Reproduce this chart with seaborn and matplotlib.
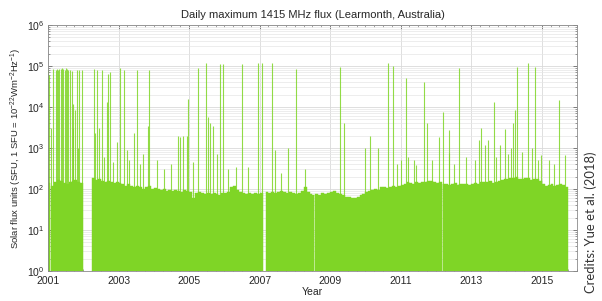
import numpy as np
import pandas as pd
import matplotlib
matplotlib.use("Agg")
import matplotlib.pyplot as plt
import matplotlib.ticker as mticker
import seaborn as sns

# ---------------- data ----------------
nan = np.nan
# typical daily-maximum level per month (SFU), Jan..Dec
base_2001 = [140, 120, 150, 170, 160, 140, 130, 150, 160, 170, 150, 140]
base_2002 = [nan, nan, nan, 190, 170, 180, 160, 150, 160, 150, 140, 150]
base_2003 = [140, 130, 120, 130, 120, 110, 120, 110, 100, 110, 120, 100]
base_2004 = [105, 100, 95, 100, 90, 95, 90, 95, 90, 85, 95, 90]
base_2005 = [85, 62, 80, 85, 80, 75, 80, 75, 80, 75, 70, 80]
base_2006 = [80, 85, 110, 120, 95, 85, 80, 75, 80, 75, 80, 75]
base_2007 = [80, nan, 85, 80, 85, 80, 85, 90, 85, 80, 85, 80]
base_2008 = [75, 80, 90, 110, 85, 75, 70, 75, 70, 80, 75, 80]
base_2009 = [85, 90, 80, 75, 70, 65, 65, 62, 60, 65, 70, 75]
base_2010 = [85, 90, 95, 100, 95, 110, 115, 105, 110, 120, 115, 120]
base_2011 = [125, 130, 150, 140, 135, 150, 140, 145, 150, 160, 155, 150]
base_2012 = [140, 150, 135, 130, 125, 130, 140, 125, 130, 135, 130, 125]
base_2013 = [130, 140, 135, 150, 145, 150, 155, 140, 150, 160, 170, 175]
base_2014 = [180, 190, 185, 200, 175, 180, 190, 185, 170, 180, 175, 160]
base_2015 = [130, 120, 125, 130, 120, 125, 130, 125, 115]

# periods without observations (decimal years)
gap_start = [2001.07, 2002.00, 2007.09, 2008.55, 2012.18, 2014.975]
gap_end   = [2001.085, 2002.23, 2007.19, 2008.565, 2012.195, 2014.99]

# burst days: date (decimal year) and daily maximum flux (SFU)
spike_year = [2001.01, 2001.04, 2001.08, 2001.13, 2001.23, 2001.26, 2001.29, 2001.32,
              2001.36, 2001.40, 2001.43, 2001.47, 2001.50, 2001.53, 2001.58, 2001.62,
              2001.67, 2001.70, 2001.72, 2001.77, 2001.81, 2001.85, 2001.88, 2001.96,
              2002.30, 2002.33, 2002.38, 2002.45, 2002.52, 2002.60, 2002.68, 2002.71,
              2002.76, 2002.85, 2002.95,
              2003.04, 2003.15, 2003.23, 2003.30, 2003.43, 2003.51, 2003.60, 2003.70,
              2003.83, 2003.87,
              2004.08, 2004.30, 2004.50, 2004.69, 2004.75, 2004.83, 2004.95, 2004.98,
              2005.10, 2005.24, 2005.47, 2005.54, 2005.58, 2005.68, 2005.80, 2005.87,
              2005.97,
              2006.10, 2006.34, 2006.49, 2006.67, 2006.96,
              2007.07, 2007.34, 2007.43, 2007.60, 2007.81,
              2008.02, 2008.30,
              2009.29, 2009.39,
              2010.00, 2010.12, 2010.37, 2010.64, 2010.78, 2010.90,
              2011.02, 2011.14, 2011.20, 2011.37, 2011.44, 2011.66, 2011.75, 2011.90,
              2012.09, 2012.20, 2012.36, 2012.38, 2012.50, 2012.64, 2012.86,
              2013.10, 2013.22, 2013.29, 2013.40, 2013.49, 2013.66, 2013.70, 2013.83,
              2013.96,
              2014.05, 2014.13, 2014.19, 2014.25, 2014.30, 2014.45, 2014.61, 2014.72,
              2014.82, 2014.90, 2014.97,
              2015.22, 2015.35, 2015.50, 2015.67]
spike_flux = [8.0e4, 6.0e4, 3.0e3, 8.5e4, 8.0e4, 8.5e4, 8.0e4, 8.5e4,
              8.5e4, 9.0e4, 8.5e4, 8.0e4, 9.0e4, 8.5e4, 8.0e4, 8.0e4,
              7.5e4, 3.0e3, 1.2e4, 8.5e3, 8.0e4, 1.0e3, 8.0e4, 8.0e4,
              8.5e4, 2.3e3, 8.0e4, 3.0e3, 8.0e4, 600, 1.3e4, 6.5e4,
              7.0e4, 450, 1.4e3,
              9.0e4, 8.0e4, 900, 500, 2.3e3, 8.0e4, 400, 700,
              3.4e3, 8.0e4,
              500, 300, 400, 2.0e3, 1.9e3, 2.0e3, 2.0e3, 1.6e4,
              450, 9.0e4, 1.2e5, 5.7e3, 4.0e3, 3.4e3, 700, 1.15e5,
              1.1e5,
              300, 350, 1.15e5, 350, 1.2e5,
              1.2e5, 1.2e5, 900, 250, 1.0e3,
              8.5e4, 300,
              9.5e4, 4.0e3,
              1.0e3, 2.0e3, 1.0e3, 1.2e5, 1.0e5, 400,
              500, 5.0e4, 600, 500, 380, 4.0e4, 4.0e3, 500,
              1.9e3, 7.6e3, 750, 2.8e3, 400, 9.0e4, 600,
              500, 1.6e3, 3.0e3, 1.2e3, 1.6e3, 1.3e4, 600, 1.2e3,
              2.9e3,
              700, 1.0e3, 4.0e3, 8.5e3, 9.5e4, 800, 1.2e5, 1.0e3,
              9.5e4, 500, 680,
              500, 400, 1.5e4, 680]

# ---------------- assemble monthly table ----------------
yearly = [base_2001, base_2002, base_2003, base_2004, base_2005, base_2006,
          base_2007, base_2008, base_2009, base_2010, base_2011, base_2012,
          base_2013, base_2014, base_2015]
rows = []
for i, vals in enumerate(yearly):
    for m, v in enumerate(vals):
        rows.append((2001 + i + m / 12.0, 2001 + i + (m + 1) / 12.0, v))
monthly = pd.DataFrame(rows, columns=["start", "end", "flux"])

# bin edges: month boundaries plus data-gap boundaries
edge_set = set(np.round(monthly["start"], 6)) | set(np.round(monthly["end"], 6)) \
    | set(gap_start) | set(gap_end)
edges = sorted(float(e) for e in edge_set)
centers = [0.5 * (a + b) for a, b in zip(edges[:-1], edges[1:])]
weights = []
for c in centers:
    in_gap = any(s <= c < e for s, e in zip(gap_start, gap_end))
    row = monthly[(monthly["start"] <= c) & (monthly["end"] > c)]
    if in_gap or row.empty or np.isnan(row["flux"].iloc[0]):
        weights.append(0.0)
    else:
        weights.append(float(row["flux"].iloc[0]))
table = pd.DataFrame({"year": centers, "flux": weights})

# ---------------- style ----------------
sns.set_style("ticks")
plt.rcParams["font.family"] = ["Liberation Sans", "DejaVu Sans"]
plt.rcParams["mathtext.default"] = "regular"

green = "#7fd526"
fig = plt.figure(figsize=(6.02, 3.01), dpi=100)
ax = fig.add_axes([48 / 602, 1 - 271 / 301, (577 - 48) / 602, (271 - 25) / 301])
ax.set_yscale("log")

sns.histplot(x=table["year"].to_numpy(), weights=table["flux"].to_numpy(),
             bins=list(edges), ax=ax, stat="count",
             color=green, alpha=1.0, edgecolor=green, linewidth=0.3)
ax.vlines(spike_year, 1, spike_flux, color=green, linewidth=0.8, alpha=0.85)

ax.set_xlim(2001, 2016)
ax.set_ylim(1, 1e6)
ax.set_xticks(np.arange(2001, 2016, 2))
ax.xaxis.set_major_formatter(mticker.FormatStrFormatter("%d"))
ax.xaxis.set_minor_locator(mticker.MultipleLocator(0.25))
ax.xaxis.set_minor_formatter(mticker.NullFormatter())
ax.yaxis.set_major_locator(mticker.LogLocator(base=10, numticks=10))
ax.yaxis.set_minor_locator(mticker.LogLocator(base=10, subs=np.arange(2, 10), numticks=20))
ax.yaxis.set_minor_formatter(mticker.NullFormatter())

ax.grid(True, which="major", color="#d9d9d9", linewidth=0.6)
ax.grid(True, which="minor", axis="y", color="#e6e6e6", linewidth=0.5)
ax.set_axisbelow(True)

ax.tick_params(which="both", direction="in", top=True, right=True,
               color="#555555", labelsize=7.5, labelcolor="#262626")
ax.tick_params(axis="x", which="both", pad=3.5)
ax.tick_params(axis="y", which="both", pad=2.5)
ax.tick_params(which="major", length=3, width=0.5)
ax.tick_params(which="minor", length=1.6, width=0.4)
for sp in ax.spines.values():
    sp.set_visible(True)
    sp.set_color("#8a8a8a")
    sp.set_linewidth(0.6)

ax.set_title("Daily maximum 1415 MHz flux (Learmonth, Australia)",
             fontsize=8, color="#262626", pad=5)
ax.set_xlabel("Year", fontsize=7.5, color="#262626", labelpad=1)
ax.set_ylabel("Solar flux units (SFU, 1 SFU = 10$^{-22}$Wm$^{-2}$Hz$^{-1}$)",
              fontsize=6.8, color="#262626", labelpad=2)

fig.text(0.981, 0.26, "Credits: Yue et al. (2018)", rotation=90,
         ha="center", va="center", fontsize=9.4, family=["Lato", "DejaVu Sans"],
         color="#333333")

fig.savefig("out.png", dpi=100)
